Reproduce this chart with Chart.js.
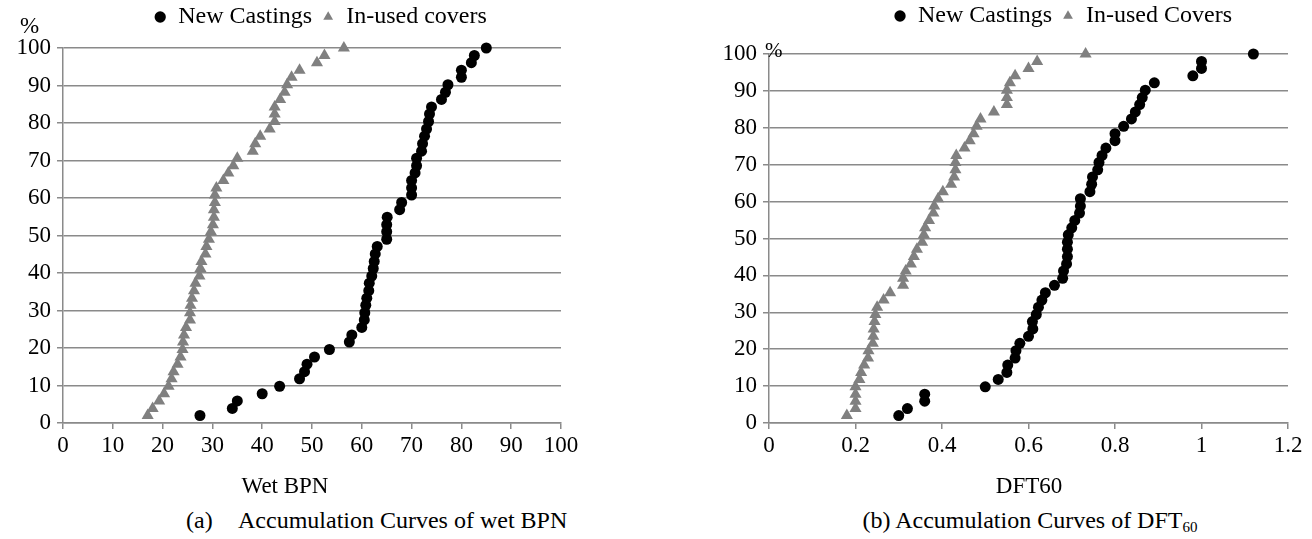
<!DOCTYPE html>
<html><head><meta charset="utf-8">
<script src="https://cdn.jsdelivr.net/npm/chart.js@4.4.0/dist/chart.umd.min.js"></script>
<style>
html,body{margin:0;padding:0;background:#fff;}
body{width:1312px;height:539px;position:relative;overflow:hidden;font-family:"Liberation Serif","Times New Roman",serif;color:#000;}
.box{position:absolute;}
.txt{position:absolute;white-space:nowrap;font-size:23px;line-height:1;}
.ctr{position:absolute;white-space:nowrap;line-height:1;text-align:center;width:400px;}
.ctr sub{font-size:15px;vertical-align:-4px;line-height:0;}
</style></head><body>
<div class="box" style="left:0;top:0;width:620px;height:501px;"><canvas id="cA"></canvas></div>
<div class="box" style="left:690px;top:0;width:622px;height:501px;"><canvas id="cB"></canvas></div>
<div class="txt" style="left:20px;top:14px;">%</div>
<div class="txt" style="left:765px;top:40px;font-size:21px;">%</div>
<div class="ctr" id="xtA" style="left:85px;top:474px;font-size:23px;">Wet BPN</div>
<div class="ctr" id="xtB" style="left:829px;top:474px;font-size:23px;">DFT60</div>
<div class="txt" style="left:186px;top:508px;font-size:24px;">(a)</div>
<div class="txt" style="left:238px;top:508px;font-size:24px;">Accumulation Curves of wet BPN</div>
<div class="ctr" style="left:830px;top:508px;font-size:24px;">(b) Accumulation Curves of DFT<sub>60</sub></div>
<script>
// ---- data ----
const cumPct = [2.0,3.9,5.9,7.8,9.8,11.8,13.7,15.7,17.6,19.6,21.6,23.5,25.5,27.5,29.4,31.4,33.3,35.3,37.3,39.2,41.2,43.1,45.1,47.1,49.0,51.0,52.9,54.9,56.9,58.8,60.8,62.7,64.7,66.7,68.6,70.6,72.5,74.5,76.5,78.4,80.4,82.4,84.3,86.3,88.2,90.2,92.2,94.1,96.1,98.0,100];
const bpnNew = [27.5,34,35,40,43.5,47.5,48.5,49,50.5,53.5,57.5,58,60,60.5,60.6,60.8,61,61.4,61.5,62,62.3,62.5,62.7,63.1,65,65,65,65.1,67.6,68,70,70,70,70.7,71,71,72,72.2,72.6,73,73.4,73.6,74,76,76.8,77.3,80,80,82,82.6,85];
const bpnUsed = [17,18,19.3,20.3,21.2,21.8,22.2,23,23.6,24,24.1,24.3,24.7,25.5,25.5,25.6,25.9,26.3,26.6,27.4,27.6,27.8,28.6,28.8,29.3,29.7,30.1,30.3,30.3,30.5,30.5,30.8,32.2,33.2,34.2,35,38.1,38.6,39.6,41.5,42.5,42.5,42.5,43.6,44.5,45,45.9,47.5,51,52.5,56.4];
const dftNew = [0.30,0.32,0.36,0.36,0.50,0.53,0.55,0.552,0.569,0.571,0.58,0.60,0.61,0.609,0.618,0.623,0.631,0.639,0.66,0.679,0.681,0.688,0.69,0.69,0.69,0.692,0.70,0.707,0.718,0.72,0.72,0.742,0.746,0.748,0.76,0.763,0.77,0.779,0.80,0.80,0.82,0.838,0.847,0.857,0.863,0.87,0.891,0.98,1.0,1.0,1.12];
const dftUsed = [0.18,0.20,0.20,0.20,0.20,0.209,0.213,0.22,0.229,0.23,0.24,0.241,0.242,0.244,0.246,0.25,0.265,0.28,0.31,0.31,0.316,0.328,0.335,0.342,0.354,0.358,0.361,0.37,0.38,0.382,0.391,0.402,0.421,0.428,0.431,0.431,0.433,0.452,0.464,0.473,0.48,0.489,0.52,0.55,0.55,0.55,0.557,0.569,0.60,0.62,0.732];
const yTickVals = [0,10,20,30,40,50,60,70,80,90,100];
const yTickLabels = ['0','10','20','30','40','50','60','70','80','90','100'];
const xTickValsA = [0,10,20,30,40,50,60,70,80,90,100];
const xTickLabelsA = ['0','10','20','30','40','50','60','70','80','90','100'];
const xTickValsB = [0,0.2,0.4,0.6,0.8,1.0,1.2];
const xTickLabelsB = ['0','0.2','0.4','0.6','0.8','1','1.2'];
const seriesNames = ['New Castings','In-used covers','In-used Covers'];

const FONT = '"Liberation Serif", "Times New Roman", serif';
const GRID = '#8a8a8a';

const legendShift = {
  id: 'legendShift',
  afterLayout(chart, args, opts) {
    const lg = chart.legend;
    if (!lg) return;
    const dx = opts.dx || 0, dy = opts.dy || 0;
    lg.left += dx; lg.right += dx; lg.top += dy; lg.bottom += dy;
  }
};

function pts(xs, ys) { return xs.map((x, i) => ({x: x, y: ys[i]})); }

function makeChart(id, cfg) {
  return new Chart(document.getElementById(id), {
    type: 'scatter',
    data: {
      datasets: [
        { label: cfg.names[0], data: pts(cfg.newX, cumPct), pointStyle: 'circle', pointRadius: 5.5, pointHoverRadius: 5.5,
          backgroundColor: '#000', borderColor: '#000', borderWidth: 0, clip: false },
        { label: cfg.names[1], data: pts(cfg.usedX, cumPct), pointStyle: 'triangle', pointRadius: 7, pointHoverRadius: 7,
          backgroundColor: '#808080', borderColor: '#808080', borderWidth: 0, clip: false }
      ]
    },
    plugins: [legendShift],
    options: {
      responsive: true, maintainAspectRatio: false, animation: false,
      layout: { padding: cfg.pad },
      plugins: {
        legend: {
          display: true, position: 'top',
          labels: { usePointStyle: true, boxHeight: 8, boxWidth: 12, padding: 10, color: '#000',
                    font: { family: FONT, size: 24 } }
        },
        legendShift: cfg.shift,
        tooltip: { enabled: false }
      },
      scales: {
        x: {
          type: 'linear', min: cfg.xMin, max: cfg.xMax,
          afterBuildTicks: s => { s.ticks = cfg.xVals.map(v => ({value: v})); },
          afterFit: s => { s.height = 78; },
          ticks: { color: '#000', font: { family: FONT, size: 23 }, padding: 3, maxRotation: 0, autoSkip: false,
                   callback: (v, i) => cfg.xLabels[i] },
          grid: { drawOnChartArea: false, drawTicks: true, tickLength: 6, color: GRID, lineWidth: 1.5 },
          border: { display: true, color: GRID, width: 1.5 },
          title: { display: false }
        },
        y: {
          type: 'linear', min: 0, max: 100,
          afterBuildTicks: s => { s.ticks = yTickVals.map(v => ({value: v})); },
          afterFit: s => { s.width = cfg.yW; },
          ticks: { color: '#000', font: { family: FONT, size: 23 }, padding: 6, autoSkip: false,
                   callback: (v, i) => yTickLabels[i] },
          grid: { drawOnChartArea: true, drawTicks: true, tickLength: 6, color: GRID, lineWidth: 1.5 },
          border: { display: true, color: GRID, width: 1.5 }
        }
      }
    }
  });
}

makeChart('cA', { names: [seriesNames[0], seriesNames[1]], newX: bpnNew, usedX: bpnUsed,
  xMin: 0, xMax: 100, xVals: xTickValsA, xLabels: xTickLabelsA,
  yW: 63, pad: { left: 0, right: 59, top: 4, bottom: 0 }, shift: { dx: 40, dy: -9 } });
makeChart('cB', { names: [seriesNames[0], seriesNames[2]], newX: dftNew, usedX: dftUsed,
  xMin: 0, xMax: 1.2, xVals: xTickValsB, xLabels: xTickLabelsB,
  yW: 79, pad: { left: 0, right: 24, top: 10, bottom: 0 }, shift: { dx: 74, dy: -16 } });
</script>
</body></html>
